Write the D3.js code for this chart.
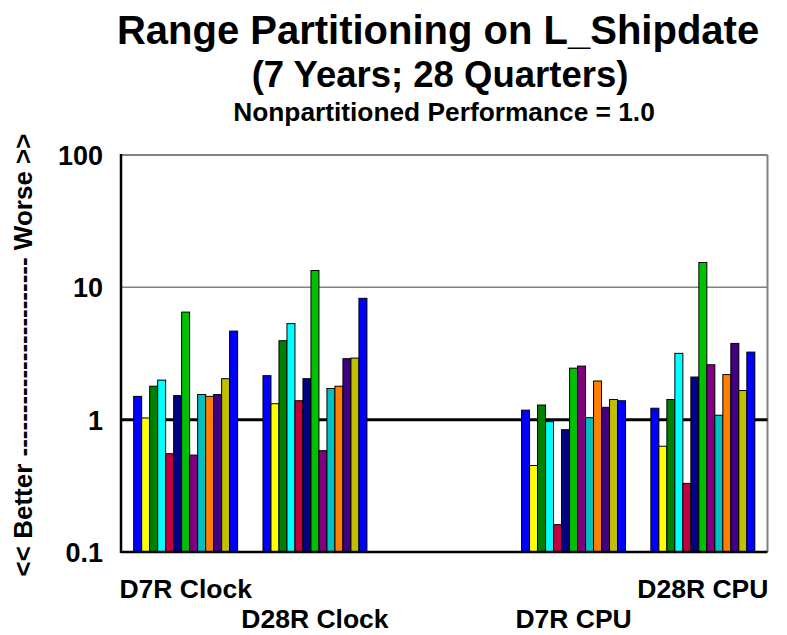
<!DOCTYPE html>
<html><head><meta charset="utf-8">
<script src="https://cdn.jsdelivr.net/npm/d3@7"></script>
<style>body{margin:0;background:#fff}svg{display:block}text{font-family:"Liberation Sans",Arial,sans-serif;font-weight:bold;fill:#000}</style>
</head><body>
<script>
const categories = ["D7R Clock", "D28R Clock", "", "D7R CPU", "D28R CPU"];
const seriesNames = ["S1","S2","S3","S4","S5","S6","S7","S8","S9","S10","S11","S12","S13"];
const seriesColors = ["#0000FF","#FFFF00","#008000","#00FFFF","#C00040","#000080","#00C000","#800080","#00C0C0","#FF8000","#400080","#C0C000","#0000FF"];
const valuesD7RClock  = [1.50, 1.03, 1.79, 1.99, 0.553, 1.52, 6.50, 0.54, 1.55, 1.50, 1.55, 2.04, 4.67];
const valuesD28RClock = [2.15, 1.32, 3.95, 5.32, 1.39, 2.04, 13.4, 0.583, 1.72, 1.79, 2.89, 2.92, 8.26];
const valuesD7RCPU    = [1.18, 0.45, 1.29, 0.966, 0.161, 0.84, 2.45, 2.54, 1.035, 1.96, 1.24, 1.42, 1.39];
const valuesD28RCPU   = [1.22, 0.63, 1.42, 3.17, 0.33, 2.10, 15.4, 2.60, 1.08, 2.19, 3.77, 1.66, 3.24];
const yTicks = [0.1, 1, 10, 100];
const yTickLabels = ["0.1", "1", "10", "100"];
const titleText = "Range Partitioning on L_Shipdate";
const subtitleText = "(7 Years; 28 Quarters)";
const noteText = "Nonpartitioned Performance = 1.0";
const yTitleText = "<< Better ----------------------- Worse >>";

const groups = [
  {cat: "D7R Clock", vals: valuesD7RClock, row: 0},
  {cat: "D28R Clock", vals: valuesD28RClock, row: 1},
  {cat: "D7R CPU", vals: valuesD7RCPU, row: 1},
  {cat: "D28R CPU", vals: valuesD28RCPU, row: 0}
];

const W = 787, H = 635;
const L = 121, R = 767.5, T = 155, B = 552;

const svg = d3.select("body").append("svg").attr("width", W).attr("height", H);

const x0 = d3.scaleBand().domain(categories).range([L, R]).paddingInner(0.196).paddingOuter(0.098);
const x1 = d3.scaleBand().domain(seriesNames).range([0, x0.bandwidth()]);
const y = d3.scaleLog().domain([0.1, 100]).range([B, T]);

function stxt(xp, yp, s, size, anchor, rot) {
  return svg.append("text")
    .attr("transform", rot ? `translate(${xp},${yp}) rotate(-90)` : `translate(${xp},${yp})`)
    .attr("text-anchor", anchor || "middle")
    .style("font-size", size + "px")
    .text(s);
}

// gridlines
svg.append("line").attr("x1", L).attr("x2", R).attr("y1", y(100)).attr("y2", y(100)).attr("stroke", "#808080").attr("stroke-width", 2);
svg.append("line").attr("x1", L).attr("x2", R).attr("y1", y(10)).attr("y2", y(10)).attr("stroke", "#808080").attr("stroke-width", 1.5);
svg.append("line").attr("x1", R).attr("x2", R).attr("y1", T).attr("y2", B).attr("stroke", "#808080").attr("stroke-width", 2);
svg.append("line").attr("x1", L).attr("x2", R).attr("y1", y(1)).attr("y2", y(1)).attr("stroke", "#000").attr("stroke-width", 3);

// bars
const g = svg.append("g");
groups.forEach(gr => {
  g.selectAll(null).data(gr.vals).enter().append("rect")
    .attr("x", (d, i) => x0(gr.cat) + x1(seriesNames[i]))
    .attr("width", x1.bandwidth())
    .attr("y", d => y(d))
    .attr("height", d => B - y(d))
    .attr("fill", (d, i) => seriesColors[i])
    .attr("stroke", "#000")
    .attr("stroke-width", 1);
});

// axes frame
svg.append("line").attr("x1", L).attr("x2", L).attr("y1", T - 1).attr("y2", B + 1).attr("stroke", "#000").attr("stroke-width", 2.5);
svg.append("line").attr("x1", L).attr("x2", R).attr("y1", B).attr("y2", B).attr("stroke", "#000").attr("stroke-width", 2.5);

// y tick labels
yTicks.forEach((v, i) => {
  stxt(103, y(v) + 10, yTickLabels[i], 27, "end");
});

// x labels
groups.forEach(gr => {
  stxt(x0(gr.cat) + x0.bandwidth() / 2, gr.row === 0 ? 598 : 628, gr.cat, 26.5, "middle");
});

// titles
stxt(438, 44, titleText, 40, "middle");
stxt(440, 87, subtitleText, 36.5, "middle");
stxt(444, 121, noteText, 26.3, "middle");
stxt(32, 355, yTitleText, 26, "middle", true);
</script>
</body></html>
